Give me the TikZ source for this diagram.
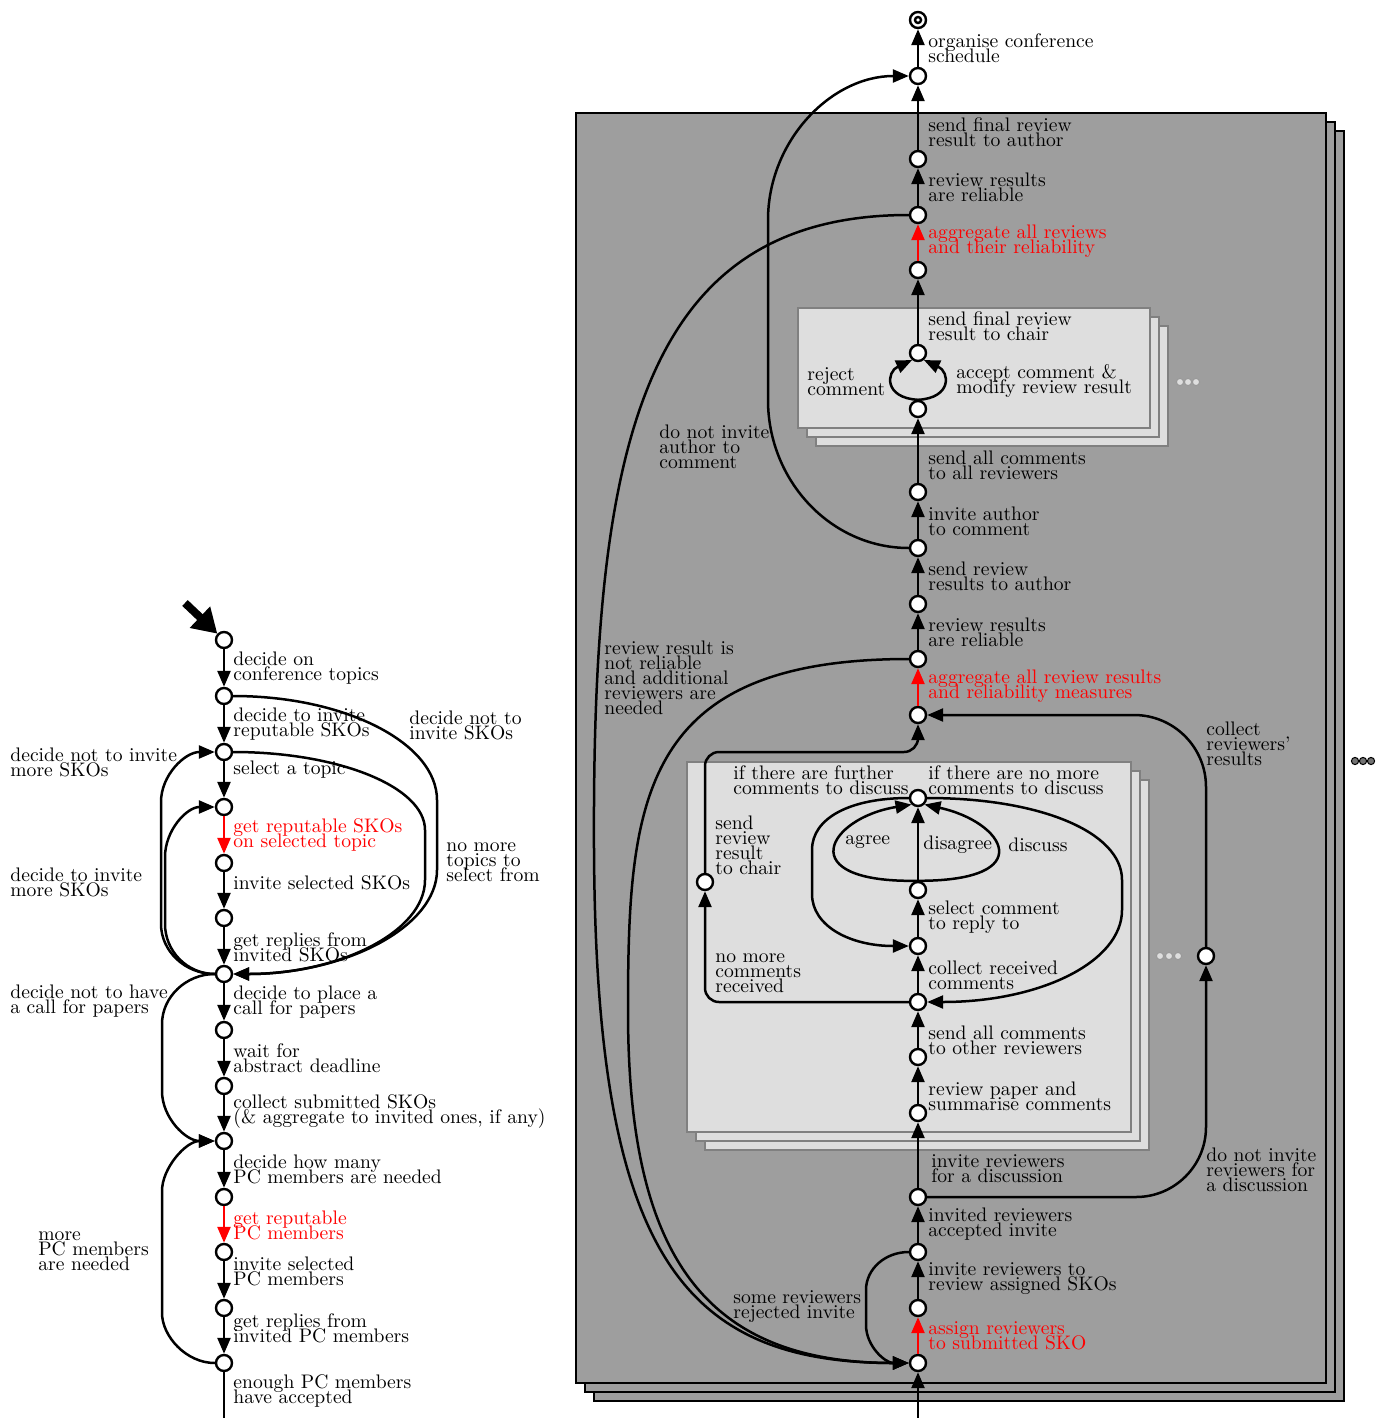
\documentclass[tikz,border=0pt]{standalone}
\usepackage{fontspec}
\usetikzlibrary{arrows.meta}
\definecolor{boxgray}{HTML}{9E9E9E}
\definecolor{subgray}{HTML}{DEDEDE}
\definecolor{subline}{HTML}{808080}
\newcommand{\lblfont}{\fontsize{9.8}{7.5}\selectfont\lineskiplimit=-20pt\relax\lineskip=0pt\relax}
\tikzset{
    %Define standard arrow tip
    >={Triangle[length=8pt,width=6.5pt]},
    %Define style for places
    pnode/.style={
           circle,
           draw=black, fill=white,
           line width=1.2pt,
           minimum size=8pt,
           inner sep=0pt},
    %Define style for labels
    lbl/.style={
           anchor=west,
           align=left,
           inner sep=0pt,
           font=\lblfont},
    % Define arrow styles
    flow/.style={
           ->,
           line width=1.25pt},
    hot/.style={
           flow,
           draw=red},
    plain/.style={
           line width=1.25pt},
    % Define style for boxes
    bigbox/.style={
           draw=black, line width=1pt,
           fill=boxgray},
    subbox/.style={
           draw=subline, line width=1.2pt,
           fill=subgray}
}

\begin{document}
\begin{tikzpicture}[x=0.5pt, y=-0.5pt]
 \useasboundingbox (0,0) rectangle (1376,1418);
 %boxes
    \draw[bigbox] (594,131) rectangle (1344,1401);
    \draw[bigbox] (585,122) rectangle (1335,1392);
    \draw[bigbox] (576,113) rectangle (1326,1383);
    \draw[subbox] (816,326) rectangle (1168,446);
    \draw[subbox] (807,317) rectangle (1159,437);
    \draw[subbox] (798,308) rectangle (1150,428);
    \draw[subbox] (705,780) rectangle (1149,1150);
    \draw[subbox] (696,771) rectangle (1140,1141);
    \draw[subbox] (687,762) rectangle (1131,1132);
 %dots
    \foreach \x in {1355,1363,1371}
        \draw[line width=0.5pt, fill=black!55] (\x,761) circle (1.8pt);
    \foreach \x in {1180,1188,1196}
        \draw[line width=0.5pt, draw=black!40, fill=subgray] (\x,382) circle (1.8pt);
    \foreach \x in {1160,1169,1178}
        \draw[line width=0.5pt, draw=black!40, fill=subgray] (\x,956) circle (1.8pt);
 %nodes left
    \coordinate (start) at (185,603);
    \node[pnode] (n1) at (224,640) {};
    \node[pnode] (n2) at (224,696) {};
    \node[pnode] (n3) at (224,752) {};
    \node[pnode] (n4) at (224,807) {};
    \node[pnode] (n5) at (224,863) {};
    \node[pnode] (n6) at (224,918) {};
    \node[pnode] (n7) at (224,974) {};
    \node[pnode] (n8) at (224,1030) {};
    \node[pnode] (n9) at (224,1086) {};
    \node[pnode] (n10) at (224,1141) {};
    \node[pnode] (n11) at (224,1197) {};
    \node[pnode] (n12) at (224,1252) {};
    \node[pnode] (n13) at (224,1308) {};
    \node[pnode] (n14) at (224,1363) {};
    \coordinate (lend) at (224,1418);
 %nodes right
    \node[pnode] (r1) at (918,20) {};
    \node[circle, draw=black, fill=white, line width=1.2pt, minimum size=3pt, inner sep=0pt] (r1dot) at (r1) {};
    \node[pnode] (r2) at (918,76) {};
    \node[pnode] (r3) at (918,159) {};
    \node[pnode] (r4) at (918,215) {};
    \node[pnode] (r5) at (918,270) {};
    \node[pnode] (r6) at (918,353) {};
    \node[pnode] (r7) at (918,409) {};
    \node[pnode] (r8) at (918,492) {};
    \node[pnode] (r9) at (918,548) {};
    \node[pnode] (r10) at (918,604) {};
    \node[pnode] (r11) at (918,659) {};
    \node[pnode] (r12) at (918,715) {};
    \node[pnode] (r13) at (918,798) {};
    \node[pnode] (r14) at (918,890) {};
    \node[pnode] (r15) at (918,946) {};
    \node[pnode] (r16) at (918,1002) {};
    \node[pnode] (r17) at (918,1057) {};
    \node[pnode] (r18) at (918,1113) {};
    \node[pnode] (r19) at (918,1197) {};
    \node[pnode] (r20) at (918,1252) {};
    \node[pnode] (r21) at (918,1308) {};
    \node[pnode] (r22) at (918,1363) {};
    \node[pnode] (s1) at (705,882) {};
    \node[pnode] (c1) at (1206,956) {};
    \coordinate (rstart) at (918,1418);
 %edges left
    \draw[line width=4pt, -{Triangle[length=12pt,width=14pt]}] (start) -- (n1);
    \draw[flow] (n1) -- (n2);
    \draw[flow] (n2) -- (n3);
    \draw[flow] (n3) -- (n4);
    \draw[hot] (n4) -- (n5);
    \draw[flow] (n5) -- (n6);
    \draw[flow] (n6) -- (n7);
    \draw[flow] (n7) -- (n8);
    \draw[flow] (n8) -- (n9);
    \draw[flow] (n9) -- (n10);
    \draw[flow] (n10) -- (n11);
    \draw[hot] (n11) -- (n12);
    \draw[flow] (n12) -- (n13);
    \draw[flow] (n13) -- (n14);
    \draw[plain] (n14) -- (lend);
    \draw[flow] (n2.east) .. controls (345,696) and (437,743) .. (437,800) -- (437,870) .. controls (437,927) and (345,974) .. (n7.east);
    \draw[flow] (n3.east) .. controls (339,752) and (425,787) .. (425,830) -- (425,880) .. controls (425,932) and (339,974) .. (n7.east);
    \draw[flow] (n7.west) .. controls (185,974) and (161,951) .. (161,924) -- (161,802) .. controls (161,775) and (185,752) .. (n3.west);
    \draw[flow] (n7.west) .. controls (187,974) and (165,951) .. (165,924) -- (165,857) .. controls (165,830) and (187,807) .. (n4.west);
    \draw[flow] (n7.west) .. controls (186,974) and (162,997) .. (162,1024) -- (162,1091) .. controls (162,1118) and (186,1141) .. (n10.west);
    \draw[flow] (n14.west) .. controls (186,1363) and (162,1336) .. (162,1313) -- (162,1191) .. controls (162,1168) and (186,1141) .. (n10.west);
 %edges right
    \draw[flow] (r2) -- (r1);
    \draw[flow] (r3) -- (r2);
    \draw[flow] (r4) -- (r3);
    \draw[hot] (r5) -- (r4);
    \draw[flow] (r6) -- (r5);
    \draw[flow] (r7.north) .. controls (884,398) and (886,372) .. (r6.230);
    \draw[flow] (r7.north) .. controls (952,398) and (950,372) .. (r6.310);
    \draw[flow] (r8) -- (r7);
    \draw[flow] (r9) -- (r8);
    \draw[flow] (r10) -- (r9);
    \draw[flow] (r11) -- (r10);
    \draw[hot] (r12) -- (r11);
    \draw[flow] (r14) -- (r13);
    \draw[flow] (r14.north) .. controls (790,883) and (828,818) .. (r13.225);
    \draw[flow] (r14.north) .. controls (1040,881) and (1005,822) .. (r13.315);
    \draw[flow] (r15) -- (r14);
    \draw[flow] (r16) -- (r15);
    \draw[flow] (r17) -- (r16);
    \draw[flow] (r18) -- (r17);
    \draw[flow] (r19) -- (r18);
    \draw[flow] (r20) -- (r19);
    \draw[flow] (r21) -- (r20);
    \draw[hot] (r22) -- (r21);
    \draw[flow] (rstart) -- (r22);
    \draw[flow] (r13.west) .. controls (850,798) and (812,818) .. (812,850) -- (812,894) .. controls (812,926) and (850,946) .. (r15.west);
    \draw[flow] (r13.east) .. controls (1040,798) and (1122,832) .. (1122,880) -- (1122,910) .. controls (1122,962) and (1040,1002) .. (r16.east);
    \draw[flow, rounded corners=7pt] (r16) -| (s1);
    \draw[flow, rounded corners=7pt] (s1) -- (705,752) -- (918,752) -- (r12);
    \draw[flow, rounded corners=36pt] (c1) |- (r12);
    \draw[flow, rounded corners=35pt] (r19) -| (c1);
    \draw[flow] (r20.west) .. controls (885,1252) and (866,1269) .. (866,1290) -- (866,1325) .. controls (866,1346) and (885,1363) .. (r22.west);
    \draw[flow] (r11.west) .. controls (640,659) and (628,800) .. (628,1011) .. controls (628,1250) and (700,1363) .. (r22.west);
    \draw[flow] (r4.west) .. controls (640,215) and (592,450) .. (594,850) .. controls (596,1250) and (680,1363) .. (r22.west);
    \draw[flow] (r9.west) .. controls (831,548) and (768,481) .. (768,400) -- (768,220) .. controls (768,141) and (831,76) .. (r2.west);
 %labels left
    \node[lbl] (l1) at (233,668) {decide on\\conference topics};
    \node[lbl] (l2) at (233,724) {decide to invite\\reputable SKOs};
    \node[lbl] (l3) at (233,770) {select a topic};
    \node[lbl, text=red] (l4) at (233,835) {get reputable SKOs\\on selected topic};
    \node[lbl] (l5) at (233,883) {invite selected SKOs};
    \node[lbl] (l6) at (233,947) {get replies from\\invited SKOs};
    \node[lbl] (l7) at (233,1002) {decide to place a\\call for papers};
    \node[lbl] (l8) at (233,1058) {wait for\\abstract deadline};
    \node[lbl] (l9) at (233,1112) {collect submitted SKOs\\(\& aggregate to invited ones, if any)};
    \node[lbl] (l10) at (233,1169) {decide how many\\PC members are needed};
    \node[lbl, text=red] (l11) at (233,1225) {get reputable\\PC members};
    \node[lbl] (l12) at (233,1271) {invite selected\\PC members};
    \node[lbl] (l13) at (233,1328) {get replies from\\invited PC members};
    \node[lbl] (l14) at (233,1391) {enough PC members\\have accepted};
    \node[lbl] (l15) at (409,725) {decide not to\\invite SKOs};
    \node[lbl] (l16) at (446,862) {no more\\topics to\\select from};
    \node[lbl] (l17) at (10,762) {decide not to invite\\more SKOs};
    \node[lbl] (l18) at (10,882) {decide to invite\\more SKOs};
    \node[lbl] (l19) at (10,1001) {decide not to have\\a call for papers};
    \node[lbl] (l20) at (38,1251) {more\\PC members\\are needed};
 %labels right
    \node[lbl] (m1) at (928,48) {organise conference\\schedule};
    \node[lbl] (m2) at (928,132) {send final review\\result to author};
    \node[lbl] (m3) at (928,187) {review results\\are reliable};
    \node[lbl, text=red] (m4) at (928,241) {aggregate all reviews\\and their reliability};
    \node[lbl] (m5) at (928,326) {send final review\\result to chair};
    \node[lbl] (m6) at (807,382) {reject\\comment};
    \node[lbl] (m7) at (956,381) {accept comment \&\\modify review result};
    \node[lbl] (m8) at (928,465) {send all comments\\to all reviewers};
    \node[lbl] (m9) at (928,521) {invite author\\to comment};
    \node[lbl] (m10) at (928,576) {send review\\results to author};
    \node[lbl] (m11) at (928,632) {review results\\are reliable};
    \node[lbl, text=red] (m12) at (928,686) {aggregate all review results\\and reliability measures};
    \node[lbl] (m13) at (1206,744) {collect\\reviewers'\\results};
    \node[lbl] (m14) at (659,447) {do not invite\\author to\\comment};
    \node[lbl] (m15) at (604,678) {review result is\\not reliable\\and additional\\reviewers are\\needed};
    \node[lbl] (m16) at (733,780) {if there are further\\comments to discuss};
    \node[lbl] (m17) at (928,780) {if there are no more\\comments to discuss};
    \node[lbl] (m18) at (715,845) {send\\review\\result\\to chair};
    \node[lbl] (m19) at (845,842) {agree};
    \node[lbl] (m20) at (923,845) {disagree};
    \node[lbl] (m21) at (1008,845) {discuss};
    \node[lbl] (m22) at (928,917) {select comment\\to reply to};
    \node[lbl] (m23) at (928,975) {collect received\\comments};
    \node[lbl] (m24) at (715,973) {no more\\comments\\received};
    \node[lbl] (m25) at (928,1040) {send all comments\\to other reviewers};
    \node[lbl] (m26) at (928,1096) {review paper and\\summarise comments};
    \node[lbl] (m27) at (931,1169) {invite reviewers\\for a discussion};
    \node[lbl] (m28) at (1206,1170) {do not invite\\reviewers for\\a discussion};
    \node[lbl] (m29) at (928,1224) {invited reviewers\\accepted invite};
    \node[lbl] (m30) at (928,1279) {invite reviewers to\\review assigned SKOs};
    \node[lbl] (m31) at (733,1307) {some reviewers\\rejected invite};
    \node[lbl, text=red] (m32) at (928,1336) {assign reviewers\\to submitted SKO};
\end{tikzpicture}
\end{document}
